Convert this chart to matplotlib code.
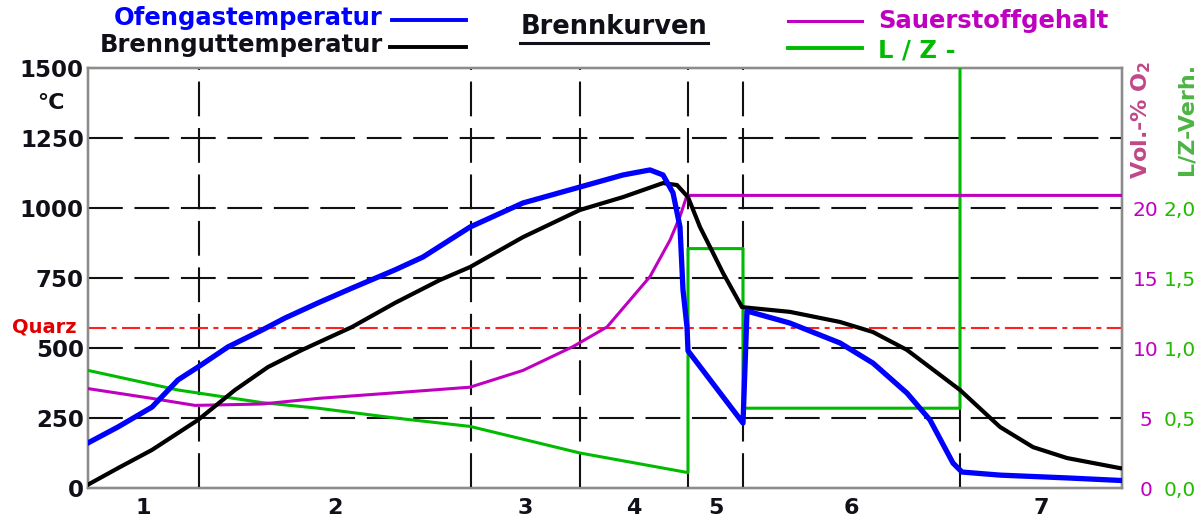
import matplotlib.pyplot as plt
from matplotlib.lines import Line2D
import numpy as np

# ---------- data (x = time units) ----------
ofengas_x = [0.0, 3.0, 6.4, 9.0, 11.0, 14.0, 17.4, 19.7, 23.0, 26.4, 30.7, 33.5, 38.2, 43.5,
             49.2, 53.5, 56.2, 57.5, 58.5, 59.2, 59.5, 59.9, 60.0, 65.5, 65.9, 70.2, 75.2,
             78.5, 81.9, 84.2, 86.5, 87.4, 91.2, 97.9, 103.2]
ofengas_t = [161, 218, 289, 386, 432, 504, 564, 607, 661, 714, 779, 825, 932, 1018,
             1075, 1118, 1136, 1118, 1054, 932, 707, 575, 490, 232, 632, 589, 518,
             446, 339, 243, 89, 57, 46, 36, 27]

brenngut_x = [0.0, 3.0, 6.4, 11.0, 14.7, 18.0, 21.4, 26.4, 30.7, 35.2, 38.2, 43.5, 49.2,
              53.5, 57.5, 58.9, 60.0, 61.2, 62.2, 63.5, 65.4, 70.2, 75.2, 78.5, 81.9,
              85.2, 87.2, 91.2, 94.5, 97.9, 103.2]
brenngut_t = [12, 71, 136, 243, 350, 432, 493, 575, 661, 743, 789, 896, 993,
              1039, 1089, 1082, 1039, 932, 861, 768, 646, 629, 593, 557, 493,
              404, 350, 218, 146, 107, 71]

o2_x = [0.0, 6.4, 10.7, 17.4, 23.0, 30.7, 38.2, 43.5, 48.5, 51.9, 56.2, 58.2, 59.2, 59.9, 103.4]
o2_pct = [7.1, 6.4, 5.9, 6.0, 6.4, 6.8, 7.2, 8.4, 10.1, 11.5, 15.1, 17.7, 19.4, 20.9, 20.9]

lz_x = [0.0, 9.0, 17.4, 23.0, 30.7, 38.2, 49.2, 60.0, 60.0, 65.5, 65.5, 87.2, 87.2]
lz_val = [0.84, 0.70, 0.61, 0.57, 0.50, 0.44, 0.25, 0.11, 1.71, 1.71, 0.57, 0.57, 3.3]

quarz_t = 573
phase_edges = [0.0, 11.1, 38.3, 49.2, 60.0, 65.5, 87.2, 103.4]
phase_labels = ['1', '2', '3', '4', '5', '6', '7']
temp_ticks = [0, 250, 500, 750, 1000, 1250, 1500]
o2_ticks = [0, 5, 10, 15, 20]
lz_ticks = [0.0, 0.5, 1.0, 1.5, 2.0]

W, H = 1201, 520
BLUE, MAG, GREEN = '#0000ff', '#c000c0', '#00bb00'
DARK = '#101018'

fig = plt.figure(figsize=(W / 100, H / 100), dpi=100)
ax = fig.add_axes([88 / W, 1 - 488 / H, (1122 - 88) / W, (488 - 68) / H])
ax2 = ax.twinx()
ax3 = ax.twinx()
ax.set_zorder(3)
ax.patch.set_visible(False)

ax.set_xlim(phase_edges[0], phase_edges[-1])
ax.set_ylim(0, 1500)
ax2.set_ylim(0, 30)
ax3.set_ylim(0, 3.0)

# grid
for y in temp_ticks[1:-1]:
    ax.axhline(y, color='#111111', lw=1.5, dashes=(16.7, 5.6), zorder=1)
for x in phase_edges[1:-1]:
    ax.axvline(x, color='#111111', lw=1.5, dashes=(16.7, 5.6), zorder=1)
ax.axhline(quarz_t, color='#ff2020', lw=1.5, dashes=(8.7, 2.6, 2.4, 2.6), zorder=2)

# curves: O2 and L/Z use the right-hand scales, drawn inside the main axes
ax.plot(lz_x, lz_val, color=GREEN, lw=2.2, zorder=3, transform=ax3.transData)
ax.plot(o2_x, o2_pct, color=MAG, lw=2.2, zorder=3, transform=ax2.transData)
ax.plot(brenngut_x, brenngut_t, color='black', lw=3.0, zorder=4)
ax.plot(ofengas_x, ofengas_t, color=BLUE, lw=3.8, zorder=5)

# frame
for a in (ax, ax2, ax3):
    for s in a.spines.values():
        s.set_color('#8c8c8c')
        s.set_linewidth(1.6)

# left axis
ax.set_yticks(temp_ticks)
ax.set_yticklabels([str(t) for t in temp_ticks], fontsize=16.5, fontweight='bold', color=DARK)
ax.tick_params(axis='y', length=0, pad=3)
ax.set_xticks([(a + b) / 2 for a, b in zip(phase_edges[:-1], phase_edges[1:])])
ax.set_xticklabels(phase_labels, fontsize=16, fontweight='bold', color=DARK)
ax.tick_params(axis='x', length=0, pad=7)

# right axes
ax2.set_yticks(o2_ticks)
ax2.set_yticklabels([str(v) for v in o2_ticks], fontsize=14.5, color=MAG, ha='center')
ax2.tick_params(axis='y', length=0, pad=17)
ax3.set_yticks(lz_ticks)
ax3.set_yticklabels([f'{v:.1f}'.replace('.', ',') for v in lz_ticks], fontsize=14.5,
                    color='#22bb00', ha='center')
ax3.tick_params(axis='y', length=0, pad=41.5)


def fx(px):
    return px / W


def fy(py):
    return 1 - py / H


# texts around the plot
fig.text(fx(51), fy(103), '°C', fontsize=16, fontweight='bold', color=DARK,
         ha='center', va='center')
fig.text(fx(44), fy(327), 'Quarz', fontsize=14, fontweight='bold', color='#e00000',
         ha='center', va='center')
fig.text(fx(1141), fy(120), r'Vol.-% O$_\mathbf{2}$', fontsize=16, fontweight='bold',
         color='#c04888', rotation=90, ha='center', va='center')
fig.text(fx(1186), fy(119), 'L/Z-Verh.', fontsize=16, fontweight='bold', color='#4cb444',
         rotation=90, ha='center', va='center')

# title
fig.text(fx(614), fy(27), 'Brennkurven', fontsize=18.5, fontweight='bold', color=DARK,
         ha='center', va='center')
fig.add_artist(Line2D([fx(520), fx(708)], [fy(43), fy(43)], color=DARK, lw=2.2))

# legends
fig.text(fx(383), fy(18), 'Ofengastemperatur', fontsize=17.5, fontweight='bold', color=BLUE,
         ha='right', va='center')
fig.add_artist(Line2D([fx(392), fx(466)], [fy(20), fy(20)], color=BLUE, lw=2.8))
fig.text(fx(383), fy(45), 'Brennguttemperatur', fontsize=17.5, fontweight='bold', color=DARK,
         ha='right', va='center')
fig.add_artist(Line2D([fx(390), fx(466)], [fy(47), fy(47)], color='black', lw=2.8))
fig.add_artist(Line2D([fx(788), fx(862)], [fy(21), fy(21)], color=MAG, lw=2.2))
fig.text(fx(878), fy(21), 'Sauerstoffgehalt', fontsize=17.5, fontweight='bold', color=MAG,
         ha='left', va='center')
fig.add_artist(Line2D([fx(788), fx(862)], [fy(48), fy(48)], color=GREEN, lw=2.8))
fig.text(fx(878), fy(50), 'L / Z -', fontsize=17.5, fontweight='bold', color=GREEN,
         ha='left', va='center')

fig.savefig('out.png', dpi=100)
